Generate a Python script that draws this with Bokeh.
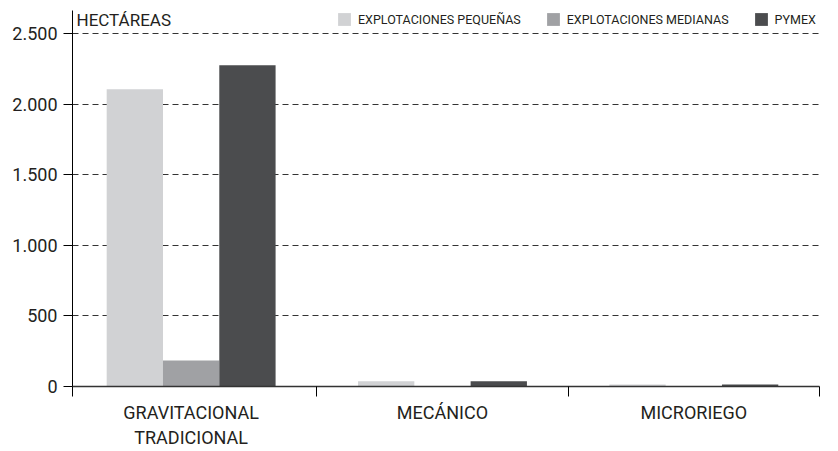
from bokeh.plotting import figure
from bokeh.models import (Range1d, FixedTicker, Legend, LegendItem, Label,
                          ColumnDataSource, LinearAxis, Grid)
from bokeh.embed import file_html
from bokeh.resources import INLINE

# ---- data ----
categories = ["GRAVITACIONAL\nTRADICIONAL", "MECÁNICO", "MICRORIEGO"]
series_names = ["EXPLOTACIONES PEQUEÑAS", "EXPLOTACIONES MEDIANAS", "PYMEX"]
pequenas = [2105, 38, 14]
medianas = [185, 2, 1]
pymex = [2275, 38, 14]
y_ticks = [0, 500, 1000, 1500, 2000, 2500]
y_tick_labels = ["0", "500", "1.000", "1.500", "2.000", "2.500"]

colors = ["#d1d2d4", "#a0a1a4", "#4b4c4e"]
FONT = "Roboto"
TXT = "#231f20"

p = figure(output_backend="svg", toolbar_location=None,
           frame_width=747, frame_height=376,
           min_border_left=72, min_border_right=11, min_border_top=10, min_border_bottom=50,
           x_range=Range1d(0.028, 3.0), y_range=Range1d(0, 2663),
           x_axis_type=None, y_axis_type=None)
p.outline_line_color = None
p.background_fill_color = "white"
p.border_fill_color = "white"

bw = 0.224
offsets = [-bw, 0.0, bw]
renderers = []
for vals, off, col in zip([pequenas, medianas, pymex], offsets, colors):
    src = ColumnDataSource(dict(x=[i + 0.5 + off for i in range(len(categories))], top=vals))
    r = p.vbar(x="x", top="top", width=bw, bottom=0, source=src,
               fill_color=col, line_color=None)
    renderers.append(r)

# y axis
yaxis = LinearAxis(ticker=FixedTicker(ticks=y_ticks),
                   major_label_overrides={t: l for t, l in zip(y_ticks, y_tick_labels)})
yaxis.axis_line_color = "black"
yaxis.axis_line_width = 1
yaxis.major_tick_line_color = "black"
yaxis.major_tick_out = 9
yaxis.major_tick_in = 0
yaxis.minor_tick_line_color = None
yaxis.major_label_text_font = FONT
yaxis.major_label_text_font_size = "18px"
yaxis.major_label_text_color = TXT
yaxis.major_label_standoff = 6
p.add_layout(yaxis, "left")

# x axis: labels at category centres, tick marks at boundaries
centres = [i + 0.5 for i in range(len(categories))]
xaxis = LinearAxis(ticker=FixedTicker(ticks=centres, minor_ticks=[0.028, 1, 2, 3]),
                   major_label_overrides={c: l for c, l in zip(centres, categories)})
xaxis.axis_line_color = "#333333"
xaxis.axis_line_width = 1.5
xaxis.major_tick_line_color = None
xaxis.minor_tick_line_color = "black"
xaxis.minor_tick_out = 10
xaxis.minor_tick_in = 0
xaxis.major_label_text_font = FONT
xaxis.major_label_text_font_size = "18px"
xaxis.major_label_text_color = TXT
xaxis.major_label_standoff = 5
p.add_layout(xaxis, "below")

# grid
g = Grid(dimension=1, ticker=FixedTicker(ticks=y_ticks[1:]))
g.grid_line_color = "#333333"
g.grid_line_dash = "6 4"
g.grid_line_width = 1
p.add_layout(g)

# unit label
p.add_layout(Label(x=4, y=377, x_units="screen", y_units="screen", text="HECTÁREAS",
                   text_font=FONT, text_font_size="17px", text_baseline="top",
                   text_color=TXT))

legend = Legend(items=[LegendItem(label=n, renderers=[r]) for n, r in zip(series_names, renderers)],
                orientation="horizontal", location=(264, 359))
legend.glyph_width = 16
legend.glyph_height = 16
legend.label_standoff = 6
legend.spacing = 24
legend.padding = 0
legend.margin = 0
legend.border_line_color = None
legend.background_fill_alpha = 0
legend.label_text_font = FONT
legend.label_text_font_size = "12.5px"
legend.label_text_color = TXT
legend.label_height = 16
p.add_layout(legend, "center")

open("out.html", "w").write(file_html(p, INLINE))
